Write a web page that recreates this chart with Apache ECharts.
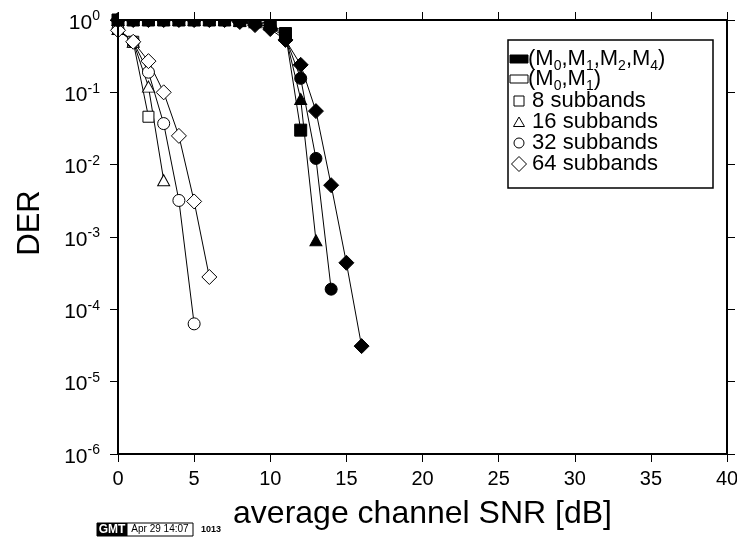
<!DOCTYPE html>
<html><head><meta charset="utf-8">
<script src="https://cdn.jsdelivr.net/npm/echarts@6.0.0/dist/echarts.min.js"></script>
<style>html,body{margin:0;padding:0;background:#fff}#c{width:737px;height:538px}</style>
</head><body><div id="c"></div>
<script>
// ---- data ----
const xTicks = [0, 5, 10, 15, 20, 25, 30, 35, 40];
const yTicks = [1e-6, 1e-5, 1e-4, 1e-3, 1e-2, 1e-1, 1];

// (M0,M1) : open markers
const snrOpen = [0, 1, 2, 3, 4, 5, 6];
const open8  = [0.75, 0.50, 0.046];
const open16 = [0.75, 0.50, 0.12, 0.0061];
const open32 = [0.75, 0.50, 0.19, 0.037, 0.0032, 6.3e-5];
const open64 = [0.72, 0.50, 0.27, 0.10, 0.025, 0.0031, 2.8e-4];

// (M0,M1,M2,M4) : filled markers
const snrFilled = [0, 1, 2, 3, 4, 5, 6, 7, 8, 9, 10, 11, 12, 13, 14, 15, 16];
const filled8  = [1, 1, 1, 1, 1, 1, 1, 1, 0.98, 0.96, 0.90, 0.65, 0.030];
const filled16 = [1, 1, 1, 1, 1, 1, 1, 1, 0.97, 0.93, 0.85, 0.60, 0.081, 9.0e-4];
const filled32 = [1, 1, 1, 1, 1, 1, 1, 1, 0.96, 0.89, 0.80, 0.57, 0.156, 0.0122, 1.9e-4];
const filled64 = [1, 1, 1, 1, 1, 1, 1, 1, 0.94, 0.85, 0.75, 0.53, 0.24, 0.055, 0.0052, 4.4e-4, 3.1e-5];

const legendLabels = ['(M0,M1,M2,M4)', '(M0,M1)', '8 subbands', '16 subbands', '32 subbands', '64 subbands'];

// ---- chart ----
const FONT = 'Liberation Sans, Arial, Helvetica, sans-serif';
function pairs(xs, ys) { return ys.map((y, i) => [xs[i], y]); }
function mk(name, xs, ys, symbol, size, filled) {
  return {
    type: 'line', name: name, data: pairs(xs, ys),
    symbol: symbol, symbolSize: size, showAllSymbol: true,
    lineStyle: { color: '#000', width: 1 },
    itemStyle: { color: filled ? '#000' : '#fff', borderColor: '#000', borderWidth: 1 },
    emphasis: { disabled: true }, animation: false, z: filled ? 3 : 2
  };
}

const chart = echarts.init(document.getElementById('c'), null, { renderer: 'canvas' });

function baseAxis() {
  return {
    axisLine: { show: true, onZero: false, lineStyle: { color: '#000', width: 2 } },
    axisTick: { show: true, inside: false, length: 8, lineStyle: { color: '#000', width: 1 } },
    splitLine: { show: false }
  };
}

const option = {
  backgroundColor: '#fff',
  animation: false,
  textStyle: { fontFamily: FONT },
  grid: { left: 118, right: 10, top: 20, bottom: 84, containLabel: false, outerBoundsMode: 'none' },
  xAxis: [
    Object.assign(baseAxis(), {
      type: 'value', position: 'bottom', min: 0, max: 40, interval: 5, z: 10,
      axisLabel: { show: true, margin: 15, fontSize: 20, color: '#000', fontFamily: FONT,
        formatter: v => xTicks.indexOf(v) >= 0 ? String(v) : '' },
      name: 'average channel SNR [dB]', nameLocation: 'middle', nameGap: 44,
      nameTextStyle: { fontSize: 32, color: '#000', fontFamily: FONT }
    }),
    Object.assign(baseAxis(), {
      type: 'value', position: 'top', min: 0, max: 40, interval: 5, z: 10,
      axisLabel: { show: false }
    })
  ],
  yAxis: [
    Object.assign(baseAxis(), {
      type: 'log', logBase: 10, position: 'left', min: 1e-6, max: 1, splitNumber: 6, z: 10,
      axisLabel: {
        show: true, margin: 18, color: '#000', fontFamily: FONT,
        formatter: function (v) {
          const e = Math.round(Math.log10(v));
          return '{b|10}{s|' + e + '}';
        },
        rich: {
          b: { fontSize: 21, lineHeight: 21, padding: [3, 0, 0, 0], verticalAlign: 'top', fontFamily: FONT, color: '#000' },
          s: { fontSize: 14, lineHeight: 14, verticalAlign: 'top', fontFamily: FONT, color: '#000' }
        }
      },
      name: 'DER', nameLocation: 'middle', nameGap: 72, nameRotate: 90,
      nameTextStyle: { fontSize: 31, color: '#000', fontFamily: FONT, padding: [0, 0, 0, 28] }
    }),
    Object.assign(baseAxis(), {
      type: 'log', logBase: 10, position: 'right', min: 1e-6, max: 1, splitNumber: 6, z: 10,
      axisLabel: { show: false }
    })
  ],
  series: [
    mk('open8', snrOpen, open8, 'rect', 11, false),
    mk('open16', snrOpen, open16, 'triangle', [12, 11], false),
    mk('open32', snrOpen, open32, 'circle', 12, false),
    mk('open64', snrOpen, open64, 'diamond', 15, false),
    mk('filled8', snrFilled, filled8, 'rect', 12, true),
    mk('filled16', snrFilled, filled16, 'triangle', [12, 11], true),
    mk('filled32', snrFilled, filled32, 'circle', 12, true),
    mk('filled64', snrFilled, filled64, 'diamond', 15, true)
  ]
};

// ---- legend box (graphic) ----
function subText(label) {
  return label.replace(/M(\d)/g, 'M{sub|$1}').split('{sub|').map((p, i) => {
    if (i === 0) return '{m|' + p + '}';
    const close = p.indexOf('}');
    return '{sub|' + p.slice(0, close) + '}{m|' + p.slice(close + 1) + '}';
  }).join('');
}
const LX = 508, LY = 40, LW = 205, LH = 148;
const rowY = [59, 79, 101, 122, 143, 164];
const LFS = 22;
const richLeg = {
  m: { fontSize: LFS, lineHeight: LFS, verticalAlign: 'top', fontFamily: FONT, color: '#000' },
  sub: { fontSize: 14, lineHeight: 14, padding: [11, 0, 0, 0], verticalAlign: 'top', fontFamily: FONT, color: '#000' }
};
const g = [];
// mask that clips marks at the top frame (GMT clips symbols at the frame)
g.push({ type: 'rect', shape: { x: 119, y: 0, width: 608, height: 19 }, style: { fill: '#fff' }, z: 5, silent: true });
g.push({ type: 'rect', shape: { x: LX, y: LY, width: LW, height: LH }, style: { fill: '#fff', stroke: '#000', lineWidth: 1.5 }, z: 20 });
// icons
g.push({ type: 'rect', shape: { x: 510, y: rowY[0] - 4, width: 18, height: 8 }, style: { fill: '#000', stroke: '#000', lineWidth: 1 }, z: 21 });
g.push({ type: 'rect', shape: { x: 510, y: rowY[1] - 4, width: 18, height: 8 }, style: { fill: '#fff', stroke: '#000', lineWidth: 1 }, z: 21 });
g.push({ type: 'rect', shape: { x: 514, y: rowY[2] - 5, width: 10, height: 10 }, style: { fill: '#fff', stroke: '#000', lineWidth: 1 }, z: 21 });
g.push({ type: 'polygon', shape: { points: [[519, rowY[3] - 5], [524.5, rowY[3] + 4.5], [513.5, rowY[3] + 4.5]] }, style: { fill: '#fff', stroke: '#000', lineWidth: 1 }, z: 21 });
g.push({ type: 'circle', shape: { cx: 519, cy: rowY[4], r: 5 }, style: { fill: '#fff', stroke: '#000', lineWidth: 1 }, z: 21 });
g.push({ type: 'polygon', shape: { points: [[519, rowY[5] - 7.5], [526.5, rowY[5]], [519, rowY[5] + 7.5], [511.5, rowY[5]]] }, style: { fill: '#fff', stroke: '#000', lineWidth: 1 }, z: 21 });
legendLabels.forEach((lab, i) => {
  const x = i < 2 ? 528 : 526;
  const txt = i < 2 ? subText(lab) : '{m| ' + lab + '}';
  g.push({ type: 'text', x: x, y: rowY[i] - 11, z: 21, style: { text: txt, rich: richLeg, fill: '#000' } });
});
// GMT time stamp
g.push({ type: 'rect', shape: { x: 97, y: 523, width: 30, height: 13 }, style: { fill: '#000', stroke: '#000', lineWidth: 1 }, z: 10 });
g.push({ type: 'text', x: 112, y: 529.5, z: 11, style: { text: 'GMT', fill: '#fff', font: 'bold 12px ' + FONT, align: 'center', verticalAlign: 'middle' } });
g.push({ type: 'rect', shape: { x: 127, y: 523, width: 66, height: 13 }, style: { fill: '#fff', stroke: '#000', lineWidth: 1 }, z: 10 });
g.push({ type: 'text', x: 160, y: 529.5, z: 11, style: { text: 'Apr 29 14:07', fill: '#000', font: '10px ' + FONT, align: 'center', verticalAlign: 'middle' } });
g.push({ type: 'text', x: 201, y: 530, z: 11, style: { text: '1013', fill: '#000', font: 'bold 9px ' + FONT, align: 'left', verticalAlign: 'middle' } });
option.graphic = g;

chart.setOption(option);
</script>
</body></html>
